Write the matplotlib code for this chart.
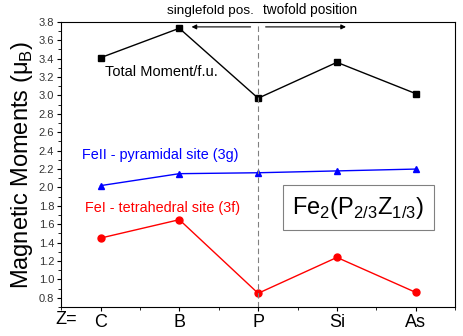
import matplotlib.pyplot as plt
from matplotlib.ticker import MultipleLocator
from matplotlib.transforms import blended_transform_factory

plt.rcParams['font.family'] = ['Liberation Sans', 'DejaVu Sans']
plt.rcParams['mathtext.fontset'] = 'custom'
plt.rcParams['mathtext.rm'] = 'Liberation Sans'

elements = ['C', 'B', 'P', 'Si', 'As']
total_moment = [3.41, 3.73, 2.97, 3.36, 3.02]
fe2_pyramidal = [2.02, 2.15, 2.16, 2.18, 2.20]
fe1_tetrahedral = [1.45, 1.65, 0.85, 1.24, 0.86]

x = list(range(1, len(elements) + 1))

fig = plt.figure(figsize=(4.63, 3.36), dpi=100)
ax = fig.add_axes([0.132, 0.086, 0.851, 0.849])

ax.plot(x, total_moment, color='black', marker='s', markersize=4.5, lw=1)
ax.plot(x, fe2_pyramidal, color='blue', marker='^', markersize=5, lw=1)
ax.plot(x, fe1_tetrahedral, color='red', marker='o', markersize=5, lw=1)

ax.axvline(3, color='gray', ls=(0, (5, 3)), lw=0.8)

ax.set_xlim(0.5, 5.5)
ax.set_ylim(0.7, 3.8)
ax.set_xticks(x)
ax.set_xticklabels(elements, fontsize=13)
ax.xaxis.set_minor_locator(MultipleLocator(0.5))
ax.yaxis.set_major_locator(MultipleLocator(0.2))
ax.yaxis.set_minor_locator(MultipleLocator(0.1))
ax.tick_params(axis='y', labelsize=8, length=3, pad=2)
ax.tick_params(axis='x', length=3, pad=2)
ax.tick_params(which='minor', length=2)
for lbl in ax.get_yticklabels():
    lbl.set_color('#333333')

ax.set_ylabel(r'Magnetic Moments (μ$_\mathregular{B}$)', fontsize=17, labelpad=3)

trans = blended_transform_factory(ax.transData, ax.transAxes)
ax.text(0.7, -0.012, 'Z=', transform=trans, fontsize=13, ha='right', va='top')

ax.text(1.06, 3.257, 'Total Moment/f.u.', fontsize=10.5, color='black',
        va='center')
ax.text(0.76, 2.354, 'FeII - pyramidal site (3g)', fontsize=10.4,
        color='blue', va='center')
ax.text(0.8, 1.778, 'FeI - tetrahedral site (3f)', fontsize=10.4,
        color='red', va='center')

ax.text(4.27, 1.78, r'Fe$_2$(P$_{2/3}$Z$_{1/3}$)', fontsize=17,
        ha='center', va='center',
        bbox=dict(boxstyle='square,pad=0.4', fc='white', ec='gray', lw=0.8))

ax.annotate('', xy=(2.12, 3.745), xytext=(2.94, 3.745),
            arrowprops=dict(arrowstyle='-|>', color='black', lw=0.8,
                            mutation_scale=7))
ax.annotate('', xy=(4.15, 3.745), xytext=(3.06, 3.745),
            arrowprops=dict(arrowstyle='-|>', color='black', lw=0.8,
                            mutation_scale=7))
ax.text(2.94, 3.85, 'singlefold pos.', fontsize=9.7, ha='right', va='bottom')
ax.text(3.06, 3.85, 'twofold position', fontsize=9.8, ha='left', va='bottom')

fig.savefig('out.png', dpi=100)
